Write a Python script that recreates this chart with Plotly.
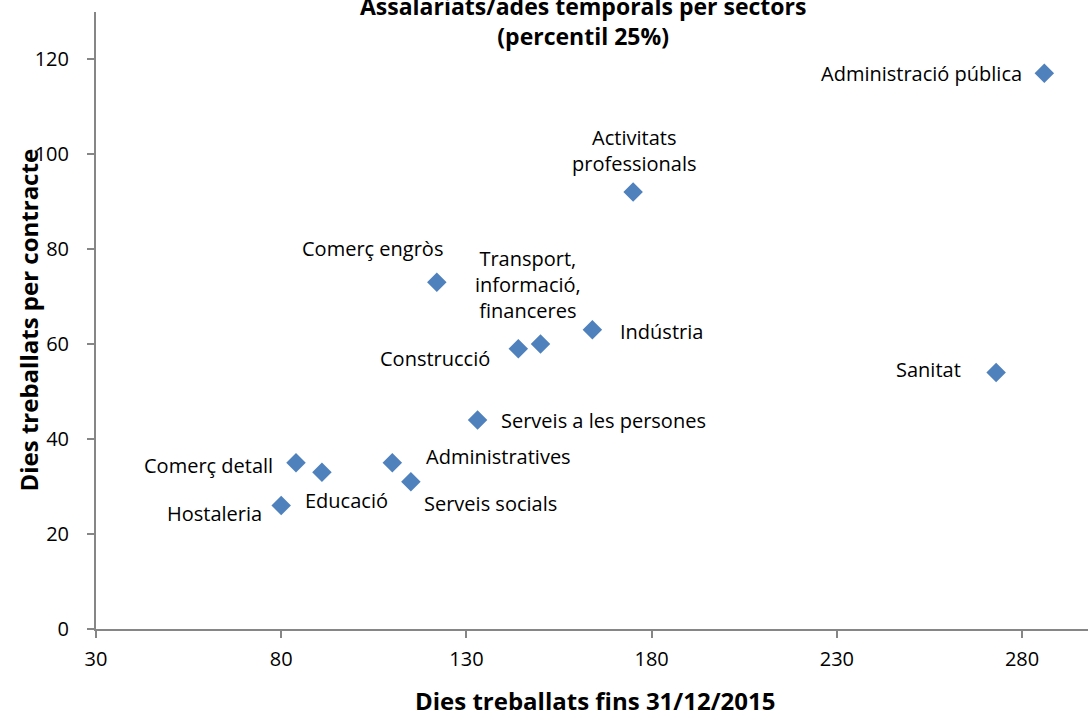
import plotly.graph_objects as go

sectors = ["Administració pública", "Activitats<br>professionals", "Comerç engròs",
           "Transport,<br>informació,<br>financeres", "Indústria", "Construcció", "Sanitat",
           "Serveis a les persones", "Comerç detall", "Educació", "Administratives",
           "Serveis socials", "Hostaleria"]
dies_fins_2015 = [286, 175, 122, 150, 164, 144, 273, 133, 84, 91, 110, 115, 80]
dies_per_contracte = [117, 92, 73, 60, 63, 59, 54, 44, 35, 33, 35, 31, 26]

x_ticks = [30, 80, 130, 180, 230, 280]
y_ticks = [0, 20, 40, 60, 80, 100, 120]

# label placement (pixel offsets from each marker): xanchor, xshift, yshift
label_pos = {
    "Administració pública": ("right", -20, 0),
    "Activitats<br>professionals": ("center", 1, 42),
    "Comerç engròs": ("center", -64, 34),
    "Transport,<br>informació,<br>financeres": ("center", -13, 60),
    "Indústria": ("left", 26, -2),
    "Construcció": ("right", -26, -10),
    "Sanitat": ("right", -33, 3),
    "Serveis a les persones": ("left", 21, 0),
    "Comerç detall": ("right", -21, -3),
    "Educació": ("center", 25, -28),
    "Administratives": ("left", 32, 6),
    "Serveis socials": ("left", 11, -22),
    "Hostaleria": ("right", -17, -8),
}

FONT = "Open Sans"
fig = go.Figure()
fig.add_trace(go.Scatter(
    x=dies_fins_2015, y=dies_per_contracte, mode="markers",
    marker=dict(symbol="diamond", size=15, color="#4F81BD", line=dict(width=0)),
    showlegend=False, hoverinfo="skip"))

annotations = []
for name, xv, yv in zip(sectors, dies_fins_2015, dies_per_contracte):
    xa, xs, ys = label_pos[name]
    annotations.append(dict(x=xv, y=yv, xref="x", yref="y", text=name, showarrow=False,
                            xanchor=xa, yanchor="middle", xshift=xs, yshift=ys,
                            align="center", font=dict(family=FONT, size=20, color="#000000")))

annotations.append(dict(x=0, y=0.5, xref="paper", yref="paper", xshift=-68,
                        text="<b>Dies treballats per contracte</b>", textangle=-90,
                        showarrow=False, xanchor="center", yanchor="middle",
                        font=dict(family=FONT, size=24, color="#000000")))
annotations.append(dict(x=0.5, y=0, xref="paper", yref="paper", yshift=-71, xshift=3,
                        text="<b>Dies treballats fins 31/12/2015</b>",
                        showarrow=False, xanchor="center", yanchor="middle",
                        font=dict(family=FONT, size=24, color="#000000")))

axis_common = dict(showgrid=False, zeroline=False, showline=True, linecolor="#868686",
                   linewidth=2, ticks="outside", ticklen=7, tickwidth=1.5, tickcolor="#868686",
                   tickfont=dict(family=FONT, size=20, color="#000000"))

fig.update_layout(
    width=1088, height=716,
    margin=dict(l=96, r=0, t=12, b=87),
    paper_bgcolor="white", plot_bgcolor="white",
    title=dict(text="<b>Assalariats/ades temporals per sectors<br>(percentil 25%)</b>",
               x=0.536, xanchor="center", y=0.979, yanchor="middle", yref="container",
               font=dict(family=FONT, size=23, color="#000000")),
    xaxis=dict(range=[30, 297.8], tickvals=x_ticks, ticklabelstandoff=4, **axis_common),
    yaxis=dict(range=[0, 129.9], tickvals=y_ticks, ticklabelstandoff=14, **axis_common),
    annotations=annotations,
)

fig.write_html("out.html", config={"displayModeBar": False},
               post_script="document.body.style.margin='0';document.body.style.overflow='hidden';")
